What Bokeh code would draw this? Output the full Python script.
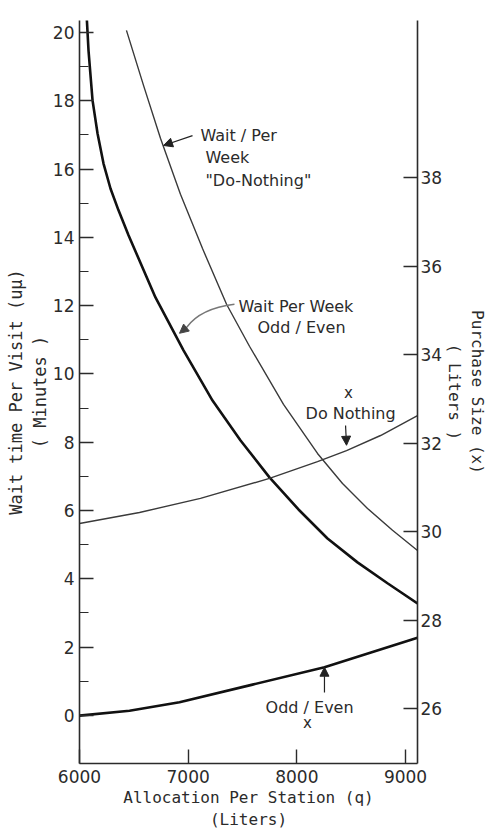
from bokeh.plotting import figure
from bokeh.models import Range1d, LinearAxis, FixedTicker, Arrow, NormalHead
from bokeh.core.properties import value
from bokeh.embed import file_html
from bokeh.resources import INLINE

# ---- data ----
# Wait per week, Odd/Even (left axis, minutes)
q_wait_odd_even = [6064, 6083, 6120, 6166, 6221, 6285, 6359, 6451, 6699, 6957,
                   7224, 7482, 7748, 8015, 8282, 8558, 8834, 9110]
wait_odd_even = [20.59, 19.47, 18.01, 17.04, 16.16, 15.43, 14.79, 14.06, 12.24, 10.69,
                 9.22, 8.05, 6.97, 6.03, 5.18, 4.48, 3.87, 3.28]

# Wait per week, "Do-Nothing" (left axis, minutes)
q_wait_do_nothing = [6432, 6589, 6745, 6929, 7132, 7353, 7564, 7877, 8190, 8420,
                     8650, 8880, 9110]
wait_do_nothing = [20.06, 18.45, 16.90, 15.26, 13.67, 12.04, 10.81, 9.11, 7.67, 6.79,
                   6.06, 5.42, 4.83]

# Purchase size, Do Nothing (right axis, liters)
q_size_do_nothing = [6000, 6552, 7113, 7748, 8190, 8457, 8770, 9110]
size_do_nothing = [30.18, 30.43, 30.75, 31.20, 31.58, 31.83, 32.17, 32.62]

# Purchase size, Odd/Even (right axis, liters)
q_size_odd_even = [6000, 6460, 6920, 7592, 8254, 9110]
size_odd_even = [25.84, 25.95, 26.14, 26.54, 26.93, 27.60]

x_ticks = [6000, 7000, 8000, 9000]
left_ticks = [0, 2, 4, 6, 8, 10, 12, 14, 16, 18, 20]
left_minor = [1, 3, 5, 7, 9, 11, 13, 15, 17, 19]
right_ticks = [26, 28, 30, 32, 34, 36, 38]

FONT = "DejaVu Sans"
LABEL_FONT = "DejaVu Sans Mono"
INK = "#2b2b2b"

p = figure(width=493, height=832,
           x_range=Range1d(6000, 9110), y_range=Range1d(-1.41, 20.35),
           output_backend="svg", toolbar_location=None,
           min_border_left=79, min_border_right=76,
           min_border_top=20, min_border_bottom=69)
p.extra_y_ranges = {"purchase": Range1d(24.757, 41.55)}
p.grid.visible = False
p.outline_line_color = None
p.background_fill_color = "white"
p.border_fill_color = "white"

def style_axis(ax, label_size):
    ax.axis_line_color = INK
    ax.axis_line_width = 1.6
    ax.major_tick_line_color = INK
    ax.major_tick_line_width = 1.4
    ax.minor_tick_line_color = INK
    ax.minor_tick_line_width = 1.2
    ax.major_tick_in = 14
    ax.major_tick_out = 0
    ax.major_label_text_font = FONT
    ax.major_label_text_font_size = "17px"
    ax.major_label_text_color = INK
    ax.axis_label_text_font = LABEL_FONT
    ax.axis_label_text_font_size = label_size
    ax.axis_label_text_font_style = "normal"
    ax.axis_label_text_color = INK

xa = p.xaxis[0]
style_axis(xa, "16px")
xa.ticker = FixedTicker(ticks=x_ticks, minor_ticks=[])
xa.minor_tick_in = 0
xa.minor_tick_out = 0
xa.major_label_standoff = 6
xa.axis_label = "Allocation Per Station (q)\n(Liters)"
xa.axis_label_standoff = 2

ya = p.yaxis[0]
style_axis(ya, "17px")
ya.ticker = FixedTicker(ticks=left_ticks, minor_ticks=left_minor)
ya.minor_tick_in = 9
ya.minor_tick_out = 0
ya.major_label_standoff = 5
ya.axis_label = "Wait time Per Visit (uμ)\n( Minutes )"
ya.axis_label_standoff = 0

ra = LinearAxis(y_range_name="purchase",
                ticker=FixedTicker(ticks=right_ticks, minor_ticks=[]))
style_axis(ra, "16px")
ra.minor_tick_in = 0
ra.minor_tick_out = 0
ra.major_label_standoff = 3
ra.axis_label = "Purchase Size (x)\n( Liters )"
ra.axis_label_standoff = 0
p.add_layout(ra, "right")

# curves
p.line(q_wait_odd_even, wait_odd_even, line_color="#111111", line_width=2.6)
p.line(q_wait_do_nothing, wait_do_nothing, line_color="#3a3a3a", line_width=1.4)
p.line(q_size_do_nothing, size_do_nothing, line_color="#3a3a3a", line_width=1.4,
       y_range_name="purchase")
p.line(q_size_odd_even, size_odd_even, line_color="#111111", line_width=2.6,
       y_range_name="purchase")

# annotation texts
p.text(x=[7113, 7159, 7159, 7463, 7638, 8080, 7712],
       y=[16.98, 16.34, 15.67, 11.98, 11.36, 8.84, 0.23],
       text=["Wait / Per", "Week", "\"Do-Nothing\"", "Wait Per Week", "Odd / Even",
             "Do Nothing", "Odd / Even"],
       text_font=value(FONT), text_font_size="16px", text_color=INK,
       text_align="left", text_baseline="middle")
p.text(x=[8475, 8098], y=[9.43, -0.23], text=["x", "x"],
       text_font=value(FONT), text_font_size="15px", text_color=INK,
       text_align="center", text_baseline="middle")

# arrows
def arrow(x0, y0, x1, y1, color="#222222", w=1.2):
    p.add_layout(Arrow(end=NormalHead(size=9, fill_color=color, line_color=color),
                       x_start=x0, y_start=y0, x_end=x1, y_end=y1,
                       line_color=color, line_width=w))

arrow(7040, 16.98, 6773, 16.69)
p.quadratic(x0=[7426], y0=[12.04], x1=[6985], y1=[11.36], cx=[7113], cy=[11.92],
            line_color="#777777", line_width=1.4)
arrow(6985, 11.36, 6920, 11.19, color="#444444")
arrow(8448, 8.49, 8457, 7.91)
arrow(8254, 0.67, 8254, 1.41)

open("out.html", "w").write(file_html(p, INLINE))
